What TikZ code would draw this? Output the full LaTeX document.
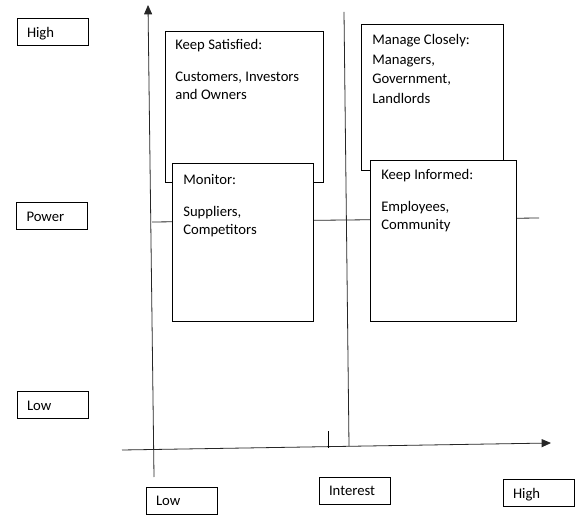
\documentclass[tikz,border=0pt]{standalone}
\usepackage{fontspec}
\setmainfont{Carlito}
\usetikzlibrary{positioning,arrows.meta}

\tikzset{
  lbl/.style={draw, line width=0.75pt, minimum height=20.25pt, text width=38.25pt,
    text height=9pt, text depth=1pt, inner xsep=7.5pt, align=left,
    font=\fontsize{11pt}{13.5pt}\selectfont},
  quad/.style={draw, fill=white, line width=0.75pt, anchor=north west, inner sep=0pt},
  txt/.style={anchor=north west, inner sep=0pt, align=left,
    font=\fontsize{11pt}{13.5pt}\selectfont},
  axis/.style={line width=0.6pt, black!85}
}

\begin{document}
\begin{tikzpicture}[x=0.75pt, y=-0.75pt]
\useasboundingbox (0,0) rectangle (588,523);

% axes
\coordinate (pbot) at (154,477);
\coordinate (ptop) at (148,5);
\coordinate (ileft) at (122,450);
\coordinate (iright) at (551,443);
\draw[axis, -{Triangle[length=7pt,width=6pt]}] (pbot) -- (ptop);
\draw[axis, -{Triangle[length=7pt,width=6pt]}] (ileft) -- (iright);

% dividers
\coordinate (vtop) at (344,12);
\coordinate (vbot) at (349,446);
\coordinate (hleft) at (152,222);
\coordinate (hright) at (539,218);
\draw[axis] (vtop) -- (vbot);
\draw[axis] (hleft) -- (hright);
\coordinate (tick0) at (328,431);
\coordinate (tick1) at (328,448);
\draw[line width=0.5pt] (tick0) -- (tick1);

% power labels
\node[lbl] (phigh) at (52.5,32.5) {High};
\node[lbl] (power) at (52,216) {Power};
\node[lbl] (plow) at (52.5,405) {Low};

% interest labels
\node[lbl] (ilow) at (181.5,500.5) {Low};
\node[lbl] (interest) at (354.5,490.5) {Interest};
\node[lbl] (ihigh) at (538.5,493) {High};

% quadrants
\node[quad, minimum width=118.5pt, minimum height=113.25pt] (satisfied) at (165,31) {};
\node[txt] (satisfiedtxt) at ([shift={(10,5.9)}]satisfied.north west)
  {\strut Keep Satisfied:\\[10.5pt]Customers, Investors\\and Owners};

\node[quad, minimum width=105.75pt, minimum height=118.5pt] (monitor) at (172,163) {};
\node[txt] (monitortxt) at ([shift={(11,8.9)}]monitor.north west)
  {\strut Monitor:\\[10.5pt]Suppliers,\\Competitors};

\node[quad, minimum width=106.5pt, minimum height=109.5pt] (closely) at (361,24) {};
\node[txt] (closelytxt) at ([shift={(11,7.9)}]closely.north west)
  {\strut Manage Closely:\\[1.2pt]Managers,\\[1.2pt]Government,\\[1.2pt]Landlords};

\node[quad, minimum width=109.5pt, minimum height=120.75pt] (informed) at (370,160) {};
\node[txt] (informedtxt) at ([shift={(11,6.9)}]informed.north west)
  {\strut Keep Informed:\\[10.5pt]Employees,\\Community};
\end{tikzpicture}
\end{document}
